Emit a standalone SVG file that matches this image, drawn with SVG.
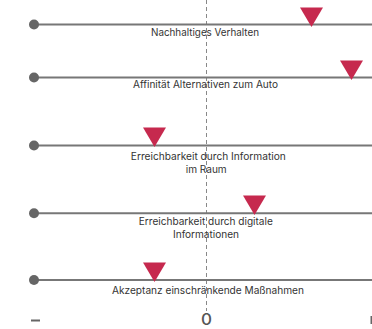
<svg xmlns="http://www.w3.org/2000/svg" width="372" height="329" viewBox="0 0 372 329">
  <style>
    .axis { stroke: #777777; stroke-width: 2; fill: none; }
    .dot { fill: #666666; }
    .marker { fill: #c6294e; }
    .label { font-family: Inter, "Noto Sans", sans-serif; font-size: 10.4px; fill: #333333; text-anchor: middle; }
    .scale { font-family: Inter, "Noto Sans", sans-serif; font-size: 16px; font-weight: 500; fill: #555555; text-anchor: middle; }
    .zero { stroke: #888888; stroke-width: 1; stroke-dasharray: 4 3; }
  </style>
  <defs>
    <polygon id="tri" points="-11.5,0 11.5,0 0,19.5"/>
  </defs>

  <!-- neutral reference line -->
  <g id="connectors">
    <line class="zero" x1="206.5" y1="0" x2="206.5" y2="311"/>
  </g>

  <g id="row1">
    <line class="axis" x1="34" y1="24.5" x2="372" y2="24.5"/>
    <circle class="dot" cx="34" cy="24.5" r="5"/>
    <use href="#tri" class="marker" x="311.5" y="7.5"/>
    <text class="label" x="205" y="35.5" textLength="108" lengthAdjust="spacingAndGlyphs">Nachhaltiges Verhalten</text>
  </g>

  <g id="row2">
    <line class="axis" x1="34" y1="77.5" x2="372" y2="77.5"/>
    <circle class="dot" cx="34" cy="77.5" r="5"/>
    <use href="#tri" class="marker" x="351.5" y="60.5"/>
    <text class="label" x="205.5" y="88" textLength="145" lengthAdjust="spacingAndGlyphs">Affinität Alternativen zum Auto</text>
  </g>

  <g id="row3">
    <line class="axis" x1="34" y1="145.5" x2="372" y2="145.5"/>
    <circle class="dot" cx="34" cy="145.5" r="5"/>
    <use href="#tri" class="marker" x="154.5" y="127.5"/>
    <text class="label" x="208.3" y="160" textLength="155" lengthAdjust="spacingAndGlyphs">Erreichbarkeit durch Information</text>
    <text class="label" x="206.2" y="172.5" textLength="41" lengthAdjust="spacingAndGlyphs">im Raum</text>
  </g>

  <g id="row4">
    <line class="axis" x1="34" y1="213.2" x2="372" y2="213.2"/>
    <circle class="dot" cx="34" cy="213.2" r="5"/>
    <use href="#tri" class="marker" x="254.5" y="195.5"/>
    <text class="label" x="205.8" y="224.5" textLength="134" lengthAdjust="spacingAndGlyphs">Erreichbarkeit durch digitale</text>
    <text class="label" x="206" y="237.5" textLength="66" lengthAdjust="spacingAndGlyphs">Informationen</text>
  </g>

  <g id="row5">
    <line class="axis" x1="34" y1="280" x2="372" y2="280"/>
    <circle class="dot" cx="34" cy="280" r="5"/>
    <use href="#tri" class="marker" x="154.5" y="262.5"/>
    <text class="label" x="208" y="294.3" textLength="192" lengthAdjust="spacingAndGlyphs">Akzeptanz einschränkende Maßnahmen</text>
  </g>

  <!-- scale ends -->
  <g id="scale">
    <rect x="31" y="319.5" width="9" height="2" fill="#666666"/>
    <text class="scale" x="206.5" y="325" textLength="11" lengthAdjust="spacingAndGlyphs">0</text>
    <rect x="370.5" y="316" width="2" height="8" fill="#666666"/>
  </g>
</svg>
